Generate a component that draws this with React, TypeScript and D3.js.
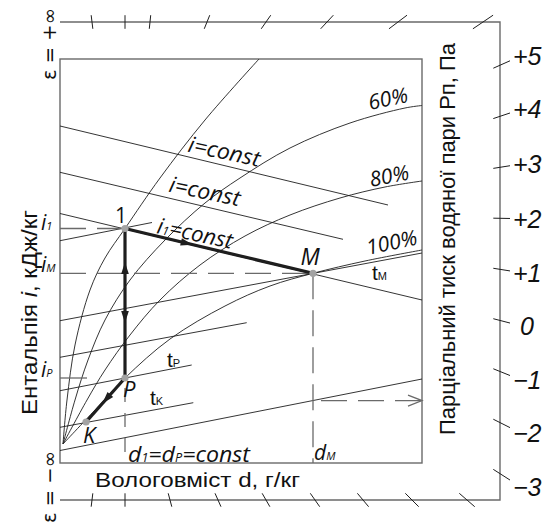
import React from 'react';
import * as d3 from 'd3';

type Pt = [number, number];

// schematic i-d diagram: d = moisture content, i = enthalpy (diagram units)
const dMax = 36.2;
const iMax = 40.4;

// relative humidity curves
const phiA: Pt[] = [[0.3, 1.9], [0.7, 6.3], [1.5, 11.8], [3.0, 17.3], [4.5, 20.5], [6.5, 23.45], [10.0, 28.5], [14.5, 34.3], [19.9, 40.4]];
const phi60: Pt[] = [[0.3, 1.9], [1.5, 6.3], [2.8, 10.3], [4.5, 14.3], [7.0, 18.3], [10.5, 22.3], [14.5, 26.0], [18.0, 28.5], [23.0, 31.5], [29.0, 34.0], [34.5, 35.5], [36.2, 35.75]];
const phi80: Pt[] = [[0.3, 1.9], [2.7, 6.3], [4.5, 9.3], [7.0, 12.8], [10.0, 16.3], [14.0, 19.8], [18.5, 22.7], [23.0, 24.8], [28.0, 26.5], [32.5, 27.6], [36.2, 28.2]];
const phi100: Pt[] = [[0.3, 1.9], [3.5, 5.3], [6.5, 8.5], [11.0, 12.4], [16.5, 15.7], [21.0, 17.7], [25.3, 18.97], [30.5, 20.2], [36.2, 21.3]];
const phiCurves = [phiA, phi60, phi80, phi100];
const phiLabels = ['60%', '80%', '100%'];

// i = const lines
const enthalpyLines: Pt[][] = [
  [[0, 33.7], [32.8, 25.8]],
  [[0, 29.07], [28.3, 22.37]],
  [[0, 24.95], [36.2, 16.3]],
];
// isotherms
const tBottom: Pt[] = [[0, 1.25], [36.2, 8.4]];
const isotherms: Pt[][] = [
  tBottom,
  [[0, 3.57], [13.33, 6.03]],
  [[0, 7.23], [13.17, 9.8]],
  [[0, 10.57], [18.67, 14.03]],
  [[0, 14.23], [36.2, 21.0]],
  [[0, 22.23], [9.2, 24.05]],
];

// process states
const pt1: Pt = [6.5, 23.45];
const ptM: Pt = [25.3, 18.97];
const ptP: Pt = [6.5, 8.5];
const ptK: Pt = [2.6, 4.1];

// heat-moisture ratio scale on the outer frame
const epsRight = [5, 4, 3, 2, 1, 0, -1, -2, -3];
const epsRightAngles = [-24, -18.5, -9, 1, 9, 14.5, 22, 26.7, 32.6];
const epsTopD = [3.2, 6.5, 9.0, 14.7, 20.6, 26.7, 33.8, 42.3];
const epsTopAngles = [-7, 0, 6, 22, 35, 43, 53, 56];
const epsBottomD = [3.2, 6.5, 11.0, 15.8, 20.6, 25.5, 30.3, 35.2, 40.7];
const epsBottomAngles = [-7, 0, 15, 24, 30, 35, 40, 45, 49];
const outerD = 44, outerTop = 44.1, outerBottom = -3.7;

const sans = "'Open Sans', 'Noto Sans', sans-serif";
const narrow = "'Liberation Sans Narrow', 'Liberation Sans', sans-serif";
const arial = "'Liberation Sans', Arial, sans-serif";
const ink = '#1e1e1e';
const grey = '#6a6a6a';

export default function App() {
  const x = d3.scaleLinear().domain([0, dMax]).range([60, 422]);
  const y = d3.scaleLinear().domain([0, iMax]).range([463, 59]);
  const eps = d3.scaleLinear().domain([-3, 5]).range([474.7, 64.5]);
  const straight = d3.line<Pt>().x(p => x(p[0])).y(p => y(p[1]));
  const smooth = d3.line<Pt>().x(p => x(p[0])).y(p => y(p[1])).curve(d3.curveCatmullRom.alpha(0.5));

  // filled arrowhead whose tip sits at fraction t of segment a->b, pointing to b
  const arrow = (a: Pt, b: Pt, t: number, len = 12, hw = 3.8) => {
    const ax = x(a[0]), ay = y(a[1]), bx = x(b[0]), by = y(b[1]);
    const L = Math.hypot(bx - ax, by - ay);
    const ux = (bx - ax) / L, uy = (by - ay) / L;
    const tx = ax + (bx - ax) * t, ty = ay + (by - ay) * t;
    const cx = tx - ux * len, cy = ty - uy * len;
    return `M${tx},${ty}L${cx - uy * hw},${cy + ux * hw}L${cx + uy * hw},${cy - ux * hw}Z`;
  };
  const angleOf = (seg: Pt[]) =>
    (Math.atan2(y(seg[1][1]) - y(seg[0][1]), x(seg[1][0]) - x(seg[0][0])) * 180) / Math.PI;

  const X0 = x(0), X1 = x(dMax), Y0 = y(0), Y1 = y(iMax);
  const OX = x(outerD), OT = y(outerTop), OB = y(outerBottom);
  // where the lowest isotherm crosses d = dM
  const iArrow = tBottom[0][1] + ((tBottom[1][1] - tBottom[0][1]) * ptM[0]) / tBottom[1][0];
  const tipX = X1, tipY = y(iArrow);
  const rad = (a: number) => (a * Math.PI) / 180;
  const dash = '26 11';
  const iAng = enthalpyLines.map(angleOf);
  const downTip: Pt = [ptP[0], ptP[1] + (pt1[1] - ptP[1]) * 0.368];

  return (
    <svg width={546} height={522} style={{ position: 'absolute', left: 0, top: 0, background: '#fff' }}>
      {/* outer frame */}
      <path d={`M${X0},${OT}H${OX}V${OB}H${X0}`} fill="none" stroke={grey} strokeWidth={1.4} />
      {epsTopD.map((d, k) => {
        const off = Math.tan(rad(epsTopAngles[k])) * 6.8;
        return <line key={'t' + k} x1={x(d) - off} y1={OT + 6.8} x2={x(d) + off} y2={OT - 6.8} stroke={ink} strokeWidth={1} />;
      })}
      {epsBottomD.map((d, k) => {
        const off = Math.tan(rad(epsBottomAngles[k])) * 6.7;
        return <line key={'b' + k} x1={x(d) - off} y1={OB - 6.7} x2={x(d) + off} y2={OB + 6.7} stroke={ink} strokeWidth={1} />;
      })}
      {epsRight.map((v, k) => {
        const off = Math.tan(rad(epsRightAngles[k])) * 8.35;
        const cy = eps(v);
        const ly = cy + Math.tan(rad(epsRightAngles[k])) * 20 + 9;
        return (
          <g key={'r' + k}>
            <line x1={OX - 6.7} y1={cy - off} x2={OX + 10} y2={cy + off} stroke={ink} strokeWidth={1} />
            <text x={v === 0 ? 520 : 513} y={ly} fontFamily={arial} fontStyle="italic" fontSize={25} fill="#111">
              {v > 0 ? '+' + v : v < 0 ? '\u2212' + -v : '0'}
            </text>
          </g>
        );
      })}

      {/* inner frame */}
      <rect x={X0} y={Y1} width={X1 - X0} height={Y0 - Y1} fill="none" stroke={grey} strokeWidth={1.4} />

      {/* grid of the diagram */}
      {enthalpyLines.map((s, k) => <path key={'i' + k} d={straight(s)!} stroke={ink} strokeWidth={0.9} fill="none" />)}
      {isotherms.map((s, k) => <path key={'ts' + k} d={straight(s)!} stroke={ink} strokeWidth={0.9} fill="none" />)}
      {phiCurves.map((c, k) => <path key={'p' + k} d={smooth(c)!} stroke={ink} strokeWidth={0.9} fill="none" />)}

      {/* dashed guides */}
      <g stroke={grey} strokeWidth={1.3} fill="none">
        <line x1={X0} y1={y(pt1[1])} x2={x(pt1[0])} y2={y(pt1[1])} strokeDasharray={dash} />
        <line x1={X0} y1={y(ptM[1])} x2={x(ptM[0])} y2={y(ptM[1])} strokeDasharray={dash} />
        <line x1={X0} y1={y(ptP[1])} x2={X0 + 27} y2={y(ptP[1])} />
        <line x1={x(ptM[0])} y1={y(ptM[1])} x2={x(ptM[0])} y2={Y0} strokeDasharray={dash} />
        <line x1={x(ptP[0])} y1={y(ptP[1])} x2={x(ptP[0])} y2={Y0} strokeDasharray="14 11" strokeDashoffset={-10} />
        <line x1={x(ptM[0])} y1={tipY} x2={tipX} y2={tipY} strokeDasharray={dash} strokeDashoffset={-8} />
        <path d={`M${tipX - 14},${tipY - 5.5}L${tipX},${tipY}L${tipX - 14},${tipY + 5.5}`} />
      </g>

      {/* process lines */}
      <g stroke={ink} strokeWidth={3.2} fill="none">
        <path d={straight([pt1, ptM])!} />
        <path d={straight([pt1, ptP])!} />
        <path d={straight([ptP, ptK])!} />
      </g>
      <g fill={ink}>
        <path d={arrow(pt1, ptM, 0.36)} />
        <path d={arrow(ptP, pt1, 0.776)} />
        <path d={arrow(ptP, pt1, 0.368)} transform={`rotate(180 ${x(downTip[0])} ${y(downTip[1])})`} />
        <path d={arrow(ptP, ptK, 0.58)} />
      </g>
      {[pt1, ptM, ptP, ptK].map((p, k) => <circle key={'c' + k} cx={x(p[0])} cy={y(p[1])} r={3.6} fill="#a3a3a3" />)}

      {/* labels inside the diagram */}
      <g fontFamily={sans} fill="#111">
        <text x={x(pt1[0]) - 4} y={y(pt1[1]) - 6} fontSize={21} textAnchor="middle">1</text>
        <text x={x(ptM[0]) - 3} y={y(ptM[1]) - 8} fontSize={23} fontStyle="italic" textAnchor="middle">M</text>
        <text x={x(ptP[0]) - 2} y={y(ptP[1]) + 19} fontSize={22} fontStyle="italic">P</text>
        <text x={x(ptK[0]) - 3} y={y(ptK[1]) + 21} fontSize={22} fontStyle="italic">K</text>

        <text transform={`translate(187,151.5) rotate(${iAng[0] - 1.5})`} fontSize={22} fontStyle="italic" textLength={73} lengthAdjust="spacingAndGlyphs">i=const</text>
        <text transform={`translate(168,191.5) rotate(${iAng[1] - 1.5})`} fontSize={22} fontStyle="italic" textLength={72} lengthAdjust="spacingAndGlyphs">i=const</text>
        <text transform={`translate(156,233) rotate(${iAng[2] - 1.5})`} fontSize={22} fontStyle="italic">
          i<tspan fontSize={12}>1</tspan>=const
        </text>

        <text transform="translate(370,110) rotate(-12)" fontSize={21} fontStyle="italic">{phiLabels[0]}</text>
        <text transform="translate(371,187) rotate(-11)" fontSize={21} fontStyle="italic">{phiLabels[1]}</text>
        <text transform="translate(368,255) rotate(-12)" fontSize={21} fontStyle="italic">{phiLabels[2]}</text>

        <text x={128} y={462} fontSize={22} fontStyle="italic" textLength={122} lengthAdjust="spacingAndGlyphs">
          d<tspan fontSize={12}>1</tspan>=d<tspan fontSize={12}>P</tspan>=const
        </text>
        <text x={314} y={460} fontSize={21} fontStyle="italic">d<tspan fontSize={11}>M</tspan></text>

        <text x={41} y={230} fontSize={21} fontStyle="italic">i<tspan fontSize={11}>1</tspan></text>
        <text x={41} y={272} fontSize={21} fontStyle="italic">i<tspan fontSize={11}>M</tspan></text>
        <text x={41} y={377} fontSize={21} fontStyle="italic">i<tspan fontSize={11}>P</tspan></text>
      </g>
      <g fontFamily={narrow} fill="#111">
        <text x={167} y={367} fontSize={21}>t<tspan fontSize={11}>P</tspan></text>
        <text x={150} y={405} fontSize={21}>t<tspan fontSize={11}>K</tspan></text>
        <text x={372} y={280} fontSize={21}>t<tspan fontSize={11}>M</tspan></text>
      </g>

      {/* axis titles */}
      <g fontFamily={narrow} fill="#111">
        <text x={95} y={487} fontSize={21} textLength={205} lengthAdjust="spacingAndGlyphs">Вологовміст d, г/кг</text>
        <text transform="translate(37,415) rotate(-90)" fontSize={22} textLength={205} lengthAdjust="spacingAndGlyphs">
          Ентальпія <tspan fontStyle="italic">i</tspan>, кДж/кг
        </text>
        <text transform="translate(455,435) rotate(-90)" fontSize={22} textLength={392} lengthAdjust="spacingAndGlyphs">
          Парціальний тиск водяної пари Рп, Па
        </text>
      </g>
      <g fontFamily="'DejaVu Sans', sans-serif" fill="#111">
        <text transform="translate(56,44) rotate(-90)" fontSize={19} textAnchor="middle" textLength={72} lengthAdjust="spacingAndGlyphs">ε = +∞</text>
        <text transform="translate(56,487) rotate(-90)" fontSize={19} textAnchor="middle" textLength={72} lengthAdjust="spacingAndGlyphs">ε = −∞</text>
      </g>
    </svg>
  );
}
